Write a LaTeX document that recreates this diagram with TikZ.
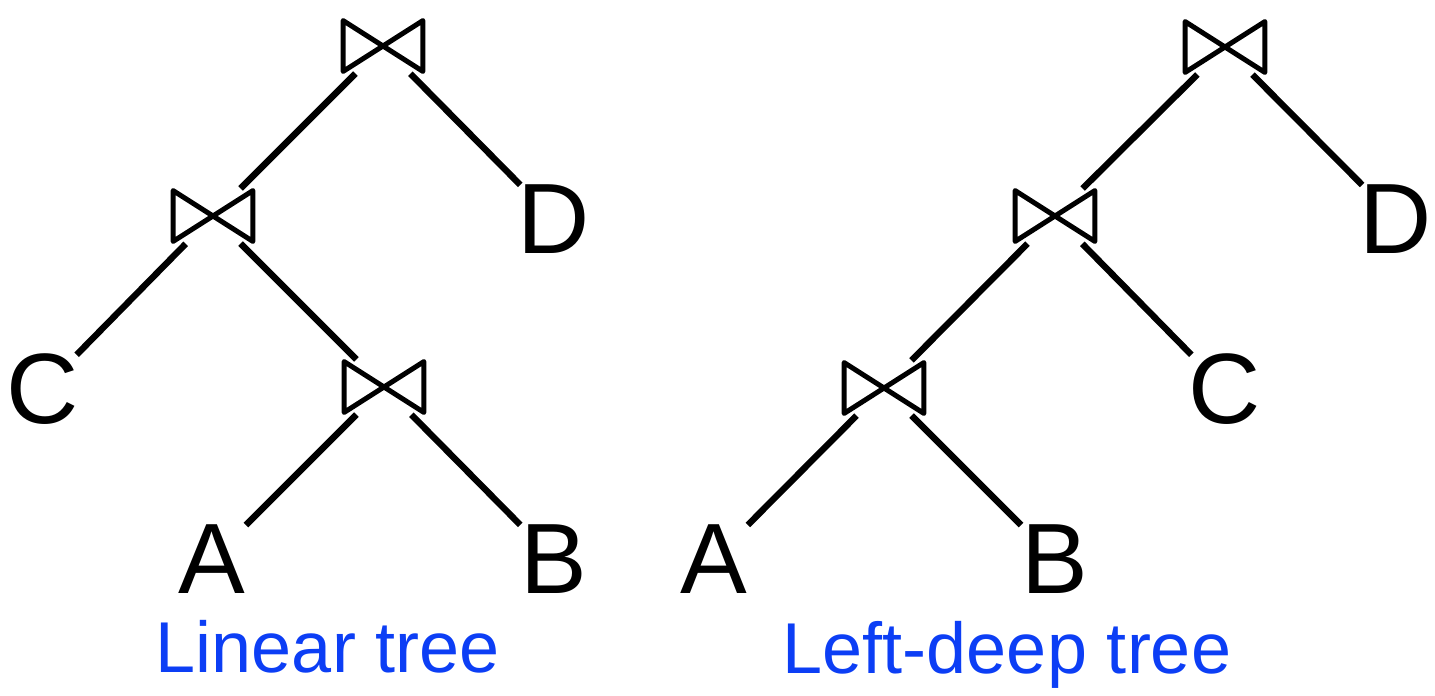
\documentclass[tikz,border=0pt]{standalone}
\usepackage{fontspec}
\setmainfont{Liberation Sans}
\definecolor{lblblue}{RGB}{12,62,245}
\tikzset{
  joinbox/.style={inner sep=0pt, minimum width=39.5pt, minimum height=25pt},
  leafnode/.style={inner sep=0pt, font=\fontsize{50}{50}\selectfont},
  lbltext/.style={inner sep=0pt, anchor=base, text=lblblue, font=\fontsize{36}{36}\selectfont},
  connline/.style={line width=3.2pt, line cap=butt},
  jjline/.style={connline, shorten <=19.5pt, shorten >=19.5pt},
  jlline/.style={connline, shorten <=19.5pt, shorten >=24pt},
  tiestyle/.style={line width=2.5pt, line join=round}
}
\newcommand\drawjoin[1]{%
  \draw[tiestyle] (#1.north west) -- (#1.south west) -- (#1.center) -- cycle
             (#1.north east) -- (#1.south east) -- (#1.center) -- cycle;}
\begin{document}
\begin{tikzpicture}[x=0.5pt,y=-0.5pt]
\useasboundingbox (0,0) rectangle (1435,696);
% left tree
\node[joinbox] (a1) at (383,46) {};
\node[joinbox] (a2) at (213,216) {};
\node[joinbox] (a3) at (384,387) {};
\node[leafnode] (aC) at (43,389) {C};
\node[leafnode] (aD) at (554,219) {D};
\node[leafnode] (aA) at (212,559) {A};
\node[leafnode] (aB) at (554,559) {B};
\foreach \j in {a1,a2,a3} {\drawjoin{\j}}
\draw[jjline] (a1.center) -- (a2.center);
\draw[jlline] (a1.center) -- (aD.center);
\draw[jlline] (a2.center) -- (aC.center);
\draw[jjline] (a2.center) -- (a3.center);
\draw[jlline] (a3.center) -- (aA.center);
\draw[jlline] (a3.center) -- (aB.center);
\node[lbltext] (l1) at (328,672) {Linear tree};
% right tree
\node[joinbox] (b1) at (1225,47) {};
\node[joinbox] (b2) at (1055,216) {};
\node[joinbox] (b3) at (884,388) {};
\node[leafnode] (bA) at (714,559) {A};
\node[leafnode] (bB) at (1055,559) {B};
\node[leafnode] (bC) at (1225,389) {C};
\node[leafnode] (bD) at (1396,219) {D};
\foreach \j in {b1,b2,b3} {\drawjoin{\j}}
\draw[jjline] (b1.center) -- (b2.center);
\draw[jlline] (b1.center) -- (bD.center);
\draw[jjline] (b2.center) -- (b3.center);
\draw[jlline] (b2.center) -- (bC.center);
\draw[jlline] (b3.center) -- (bA.center);
\draw[jlline] (b3.center) -- (bB.center);
\node[lbltext] (l2) at (1007,673) {Left-deep tree};
\end{tikzpicture}
\end{document}
